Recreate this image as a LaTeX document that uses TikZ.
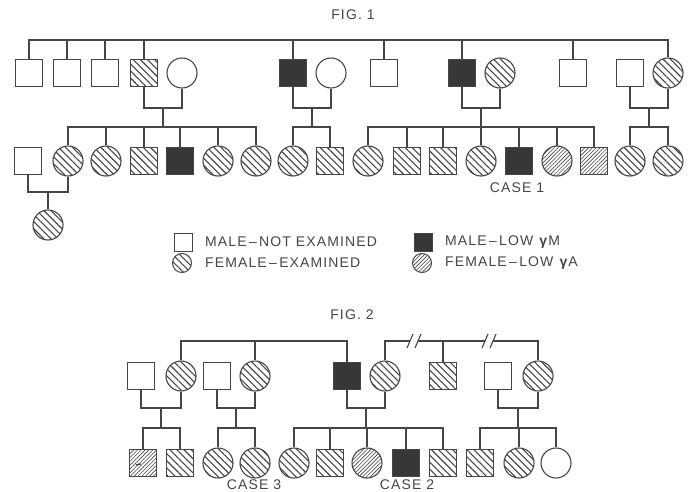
\documentclass[tikz,border=0pt]{standalone}
\usepackage{fontspec}
\setmainfont{Liberation Sans}[LetterSpace=8]
\usetikzlibrary{patterns.meta,calc}
\definecolor{lc}{RGB}{70,70,70}
\definecolor{dk}{RGB}{55,55,55}
\newcommand\mycouple[4]{%
  \draw[ln] (#1.south) |- (#2.south |- #3) -- (#2.south);
  \coordinate (#4) at ($(#1.south |- #3)!0.5!(#2.south |- #3)$);}
\newcommand\mysibbar[3]{\draw[ln] (#1.north) |- (#2.north |- #3) -- (#2.north);}
\newcommand\mydrop[2]{\draw[ln] (#1.north) -- (#1.north |- #2);}
\tikzset{
  ln/.style={draw=lc, line width=1.1pt},
  msq/.style={rectangle, draw=lc, line width=1.1pt, minimum size=27pt, inner sep=0pt},
  fci/.style={circle, draw=lc, line width=1.1pt, minimum size=30pt, inner sep=0pt},
  lsq/.style={rectangle, draw=lc, line width=1pt, minimum size=18pt, inner sep=0pt},
  lci/.style={circle, draw=lc, line width=1pt, minimum size=19pt, inner sep=0pt},
  ex/.style={pattern={Lines[angle=-45,distance=5pt,line width=1.1pt]}, pattern color=lc},
  lowa/.style={pattern={Lines[angle=45,distance=2.7pt,line width=0.6pt]}, pattern color=lc},
  lowm/.style={fill=dk},
  lbl/.style={text=lc, font=\fontsize{14}{16}\selectfont, inner sep=0pt},
}
\begin{document}
\begin{tikzpicture}[x=1pt,y=-1pt]
\useasboundingbox[fill=white] (0,0) rectangle (690,492);
% ---------------- FIG 1 ----------------
\node[lbl] (fig1) at (353,15) {FIG. 1};
\coordinate (T1) at (0,40);
\coordinate (M1) at (0,108);
\coordinate (S1) at (0,127);
\coordinate (M2) at (0,192);
% generation I
\node[msq] (a1) at (29,73) {};
\node[msq] (a2) at (67,73) {};
\node[msq] (a3) at (105,73) {};
\node[msq,ex] (a4) at (144,73) {};
\node[fci] (a5) at (182,73) {};
\node[msq,lowm] (a6) at (293,73) {};
\node[fci] (a7) at (331,73) {};
\node[msq] (a8) at (384,73) {};
\node[msq,lowm] (a9) at (462,73) {};
\node[fci,ex] (a10) at (500,73) {};
\node[msq] (a11) at (573,73) {};
\node[msq] (a12) at (630,73) {};
\node[fci,ex] (a13) at (668,73) {};
\mysibbar{a1}{a13}{T1}
\foreach \n in {a2,a3,a4,a6,a8,a9,a11} {\mydrop{\n}{T1}}
\mycouple{a4}{a5}{M1}{m1}
\mycouple{a6}{a7}{M1}{m2}
\mycouple{a9}{a10}{M1}{m3}
\mycouple{a12}{a13}{M1}{m4}
% generation II
\node[msq] (b1) at (28,161) {};
\node[fci,ex] (b2) at (68,161) {};
\node[fci,ex] (b3) at (106,161) {};
\node[msq,ex] (b4) at (144,161) {};
\node[msq,lowm] (b5) at (180,161) {};
\node[fci,ex] (b6) at (218,161) {};
\node[fci,ex] (b7) at (256,161) {};
\node[fci,ex] (b8) at (293,161) {};
\node[msq,ex] (b9) at (330,161) {};
\node[fci,ex] (b10) at (368,161) {};
\node[msq,ex] (b11) at (407,161) {};
\node[msq,ex] (b12) at (443,161) {};
\node[fci,ex] (b13) at (481,161) {};
\node[msq,lowm] (b14) at (519,161) {};
\node[fci,lowa] (b15) at (557,161) {};
\node[msq,lowa] (b16) at (594,161) {};
\node[fci,ex] (b17) at (630,161) {};
\node[fci,ex] (b18) at (668,161) {};
\mysibbar{b2}{b7}{S1}
\foreach \n in {b3,b4,b5,b6} {\mydrop{\n}{S1}}
\draw[ln] (m1) -- (m1 |- S1);
\mysibbar{b8}{b9}{S1}
\draw[ln] (m2) -- (m2 |- S1);
\mysibbar{b10}{b16}{S1}
\foreach \n in {b11,b12,b13,b14,b15} {\mydrop{\n}{S1}}
\draw[ln] (m3) -- (m3 |- S1);
\mysibbar{b17}{b18}{S1}
\draw[ln] (m4) -- (m4 |- S1);
\node[lbl] (case1) at (517,188) {CASE 1};
% generation III
\mycouple{b1}{b2}{M2}{m5}
\node[fci,ex] (c1) at (48,225) {};
\draw[ln] (m5) -- (c1.north);
% legend
\node[lsq] (k1) at (183,242) {};
\node[lci,ex] (k2) at (182,263) {};
\node[lsq,lowm] (k3) at (423,242) {};
\node[lci,lowa] (k4) at (422,263) {};
\node[lbl,anchor=west] (t1) at (205,242) {MALE\,–\,NOT EXAMINED};
\node[lbl,anchor=west] (t2) at (205,263) {FEMALE\,–\,EXAMINED};
\node[lbl,anchor=west] (t3) at (445,242) {MALE\,–\,LOW \textbf{γ}M};
\node[lbl,anchor=west] (t4) at (445,263) {FEMALE\,–\,LOW \textbf{γ}A};
% ---------------- FIG 2 ----------------
\node[lbl] (fig2) at (352,315) {FIG. 2};
\coordinate (T2) at (0,341);
\coordinate (M3) at (0,408);
\coordinate (S2) at (0,428);
\node[msq] (d1) at (141,376) {};
\node[fci,ex] (d2) at (181,376) {};
\node[msq] (d3) at (217,376) {};
\node[fci,ex] (d4) at (255,376) {};
\node[msq,lowm] (d5) at (347,376) {};
\node[fci,ex] (d6) at (385,376) {};
\node[msq,ex] (d7) at (443,376) {};
\node[msq] (d8) at (498,376) {};
\node[fci,ex] (d9) at (538,376) {};
\mysibbar{d2}{d5}{T2}
\mydrop{d4}{T2}
\coordinate (g1) at (410,341);
\coordinate (g2) at (418,341);
\coordinate (g3) at (485,341);
\coordinate (g4) at (493,341);
\draw[ln] (d6.north) |- (g1);
\draw[ln] (g2) -- (g3);
\draw[ln] (g4) -| (d9.north);
\mydrop{d7}{T2}
\foreach \g in {g1,g2,g3,g4} {\draw[ln] ($(\g)+(-3,7)$) -- ($(\g)+(3,-7)$);}
\mycouple{d1}{d2}{M3}{n1}
\mycouple{d3}{d4}{M3}{n2}
\mycouple{d5}{d6}{M3}{n3}
\mycouple{d8}{d9}{M3}{n4}
\node[msq,lowa] (e1) at (143,463) {};
\node[msq,ex] (e2) at (180,463) {};
\node[fci,ex] (e3) at (218,463) {};
\node[fci,ex] (e4) at (255,463) {};
\node[fci,ex] (e5) at (294,463) {};
\node[msq,ex] (e6) at (330,463) {};
\node[fci,lowa] (e7) at (367,463) {};
\node[msq,lowm] (e8) at (406,463) {};
\node[msq,ex] (e9) at (443,463) {};
\node[msq,ex] (e10) at (480,463) {};
\node[fci,ex] (e11) at (519,463) {};
\node[fci] (e12) at (556,463) {};
\draw[line width=1.3pt, lc] ($(e1.center)+(-7,2)$) -- ($(e1.center)+(-2,1)$);
\mysibbar{e1}{e2}{S2}
\draw[ln] (n1) -- (n1 |- S2);
\mysibbar{e3}{e4}{S2}
\draw[ln] (n2) -- (n2 |- S2);
\mysibbar{e5}{e9}{S2}
\foreach \n in {e6,e7,e8} {\mydrop{\n}{S2}}
\draw[ln] (n3) -- (n3 |- S2);
\mysibbar{e10}{e12}{S2}
\mydrop{e11}{S2}
\draw[ln] (n4) -- (n4 |- S2);
\node[lbl] (case3) at (254,485) {CASE 3};
\node[lbl] (case2) at (407,485) {CASE 2};
\end{tikzpicture}
\end{document}
